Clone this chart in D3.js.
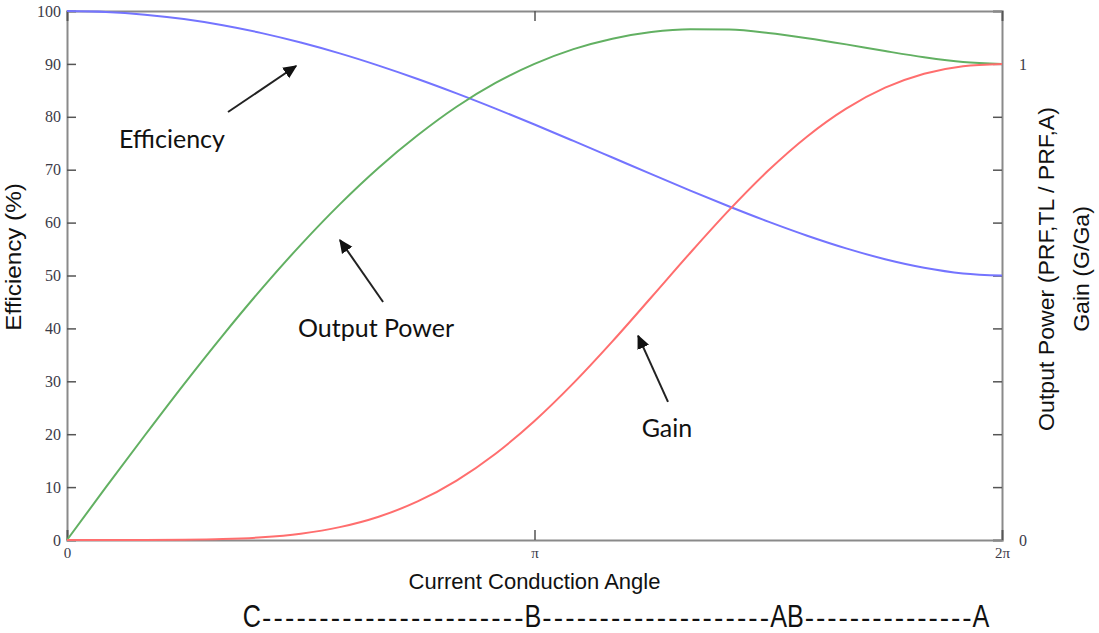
<!DOCTYPE html>
<html>
<head>
<meta charset="utf-8">
<script src="https://cdn.jsdelivr.net/npm/d3@7"></script>
<style>
  html, body { margin: 0; padding: 0; background: #ffffff; }
  svg { display: block; }
</style>
</head>
<body>
<svg id="chart" width="1099" height="633"></svg>
<script>
// Conduction angle samples (degrees, 0 .. 360 = 2π)
const angles = [0, 15, 30, 45, 60, 75, 90, 105, 120, 135, 150, 165, 180,
                195, 210, 225, 240, 255, 270, 285, 300, 315, 330, 345, 360];

// Drain efficiency (%)
const efficiency = [100.0, 99.83, 99.31, 98.47, 97.30, 95.82, 94.04, 91.99, 89.68,
                    87.15, 84.43, 81.55, 78.54, 75.44, 72.30, 69.15, 66.05, 63.04,
                    60.18, 57.52, 55.13, 53.08, 51.47, 50.40, 50.00];

// Output power, normalised to class A (PRF,TL / PRF,A)
const outputPower = [0.000, 0.111, 0.220, 0.327, 0.430, 0.528, 0.620, 0.705, 0.782,
                     0.850, 0.910, 0.960, 1.000, 1.031, 1.053, 1.067, 1.073, 1.072,
                     1.065, 1.054, 1.041, 1.027, 1.014, 1.004, 1.000];

// Gain, normalised to class A (G/Ga)
const gain = [0.0000, 0.0000, 0.0001, 0.0005, 0.0019, 0.0056, 0.0133, 0.0270, 0.0489,
              0.0810, 0.1249, 0.1813, 0.2500, 0.3295, 0.4172, 0.5099, 0.6034, 0.6934,
              0.7760, 0.8477, 0.9061, 0.9500, 0.9793, 0.9953, 1.0000];

// Axis ticks
const effTicks = [0, 10, 20, 30, 40, 50, 60, 70, 80, 90, 100];
const angleTicks = [0, 180, 360];
const angleTickLabels = ["0", "\u03c0", "2\u03c0"];
const normTicks = [0, 1];
const normTickLabels = ["0", "1"];

// Amplifier class markers along the angle axis
const classLabels = ["C", "B", "AB", "A"];
const classAngles = [71.2, 179.4, 277.2, 351.9];
const classDashes = [23, 20, 15];

// Callouts: label position and arrow (tail -> head), in data units
const callouts = [
  { text: "Efficiency",   at: [40.4, 75.3],  from: [62.0, 80.9],  to: [88.2, 89.6] },
  { text: "Output Power", at: [119.0, 39.6], from: [121.7, 45.0], to: [105.1, 56.7] },
  { text: "Gain",         at: [231.0, 20.7], from: [231.4, 26.1], to: [219.9, 38.6] }
];

const svg = d3.select("#chart");
const plotLeft = 67, plotRight = 1002, plotTop = 11, plotBottom = 540;

const x = d3.scaleLinear().domain([0, 360]).range([plotLeft, plotRight]);
const y = d3.scaleLinear().domain([0, 100]).range([plotBottom, plotTop]);
// right-hand scale: 1 (class A reference) sits level with 90 %
const y2 = d3.scaleLinear().domain([0, 100 / 90]).range([plotBottom, plotTop]);

const axisColor = "#8a8a8a";
const tickColor = "#555555";
const serif = "'Liberation Serif', 'DejaVu Serif', serif";
const sans = "'Liberation Sans', Arial, sans-serif";

function styleAxis(g) {
  g.select(".domain").attr("stroke", axisColor).attr("stroke-width", 2);
  g.selectAll(".tick line").attr("stroke", tickColor).attr("stroke-width", 1.5);
  g.selectAll(".tick text").attr("fill", "#3b3b48").attr("font-family", serif);
}

// left axis
svg.append("g")
  .attr("transform", `translate(${plotLeft},0)`)
  .call(d3.axisLeft(y).tickValues(effTicks).tickSize(-9).tickPadding(6))
  .call(styleAxis)
  .call(g => g.selectAll(".tick text").attr("font-size", 16));

// right axis: inner ticks only
svg.append("g")
  .attr("transform", `translate(${plotRight},0)`)
  .call(d3.axisRight(y).tickValues(effTicks).tickSize(-9).tickFormat(""))
  .call(styleAxis);

// right axis labels
svg.append("g")
  .attr("transform", `translate(${plotRight},0)`)
  .call(d3.axisRight(y2).tickValues(normTicks).tickSize(0).tickPadding(17)
        .tickFormat((d, i) => normTickLabels[i]))
  .call(g => g.select(".domain").remove())
  .call(g => g.selectAll(".tick text").attr("fill", "#3b3b48")
                .attr("font-family", serif).attr("font-size", 16));

// bottom axis
svg.append("g")
  .attr("transform", `translate(0,${plotBottom})`)
  .call(d3.axisBottom(x).tickValues(angleTicks).tickSize(-10).tickPadding(7)
        .tickFormat((d, i) => angleTickLabels[i]))
  .call(styleAxis)
  .call(g => g.selectAll(".tick text").attr("font-size", 15));

// top axis
svg.append("g")
  .attr("transform", `translate(0,${plotTop})`)
  .call(d3.axisTop(x).tickValues(angleTicks).tickSize(-10).tickFormat(""))
  .call(styleAxis);

// curves
const rows = angles.map((a, i) => ({ a, eff: efficiency[i], pow: outputPower[i], gain: gain[i] }));

const lineEff = d3.line().x(d => x(d.a)).y(d => y(d.eff)).curve(d3.curveMonotoneX);
const linePow = d3.line().x(d => x(d.a)).y(d => y2(d.pow)).curve(d3.curveMonotoneX);
const lineGain = d3.line().x(d => x(d.a)).y(d => y2(d.gain)).curve(d3.curveMonotoneX);

svg.append("path").datum(rows).attr("d", lineEff)
  .attr("fill", "none").attr("stroke", "#7474ff").attr("stroke-width", 2);
svg.append("path").datum(rows).attr("d", linePow)
  .attr("fill", "none").attr("stroke", "#62b062").attr("stroke-width", 2);
svg.append("path").datum(rows).attr("d", lineGain)
  .attr("fill", "none").attr("stroke", "#ff6e6e").attr("stroke-width", 2);

// axis titles (vertical titles are slightly elongated along their run)
function verticalTitle(cx, cy, stretch, text) {
  svg.append("text")
    .attr("transform", `translate(${cx},${cy}) rotate(-90) scale(${stretch},1)`)
    .attr("text-anchor", "middle").attr("font-family", sans).attr("font-size", 22)
    .attr("fill", "#111").text(text);
}
verticalTitle(21, 257, 1.1, "Efficiency (%)");
verticalTitle(1054, 269, 1.05, "Output Power (PRF,TL / PRF,A)");
verticalTitle(1089, 269, 1.05, "Gain (G/Ga)");

svg.append("text")
  .attr("x", (plotLeft + plotRight) / 2).attr("y", 589)
  .attr("text-anchor", "middle").attr("font-family", sans).attr("font-size", 22)
  .attr("fill", "#111").text("Current Conduction Angle");

// callouts
const defs = svg.append("defs");
defs.append("marker")
  .attr("id", "arrowhead").attr("viewBox", "0 0 10 10")
  .attr("refX", 9).attr("refY", 5)
  .attr("markerWidth", 7).attr("markerHeight", 7).attr("orient", "auto")
  .append("path").attr("d", "M0,0.5 L10,5 L0,9.5 Z").attr("fill", "#111");

callouts.forEach(c => {
  svg.append("line")
    .attr("x1", x(c.from[0])).attr("y1", y(c.from[1]))
    .attr("x2", x(c.to[0])).attr("y2", y(c.to[1]))
    .attr("stroke", "#222").attr("stroke-width", 2)
    .attr("marker-end", "url(#arrowhead)");
  svg.append("text")
    .attr("x", x(c.at[0])).attr("y", y(c.at[1]))
    .attr("text-anchor", "middle").attr("dominant-baseline", "middle")
    .attr("font-family", "Lato, 'Open Sans', sans-serif").attr("font-size", 25)
    .attr("fill", "#111").text(c.text);
});

// amplifier class strip
const stripY = 627;
const letterSize = 28;
const sx = 0.9, sy = 1.1;
const letterNodes = classLabels.map((t, i) => {
  const cx = x(classAngles[i]);
  return svg.append("text")
    .attr("x", cx).attr("y", stripY)
    .attr("text-anchor", "middle")
    .attr("font-family", sans).attr("font-size", letterSize)
    .attr("fill", "#111")
    .attr("transform", `translate(${cx},${stripY}) scale(${sx},${sy}) translate(${-cx},${-stripY})`)
    .text(t);
});

const boxes = letterNodes.map(n => {
  const b = n.node().getBBox();
  const cx = +n.attr("x");
  return { l: cx - (cx - b.x) * sx, r: cx + (b.x + b.width - cx) * sx };
});

classDashes.forEach((n, i) => {
  const x0 = boxes[i].r + 1, x1 = boxes[i + 1].l - 1;
  svg.append("text")
    .attr("x", x0).attr("y", stripY)
    .attr("font-family", sans).attr("font-size", letterSize)
    .attr("fill", "#111")
    .attr("textLength", x1 - x0).attr("lengthAdjust", "spacing")
    .text("-".repeat(n));
});
</script>
</body>
</html>
